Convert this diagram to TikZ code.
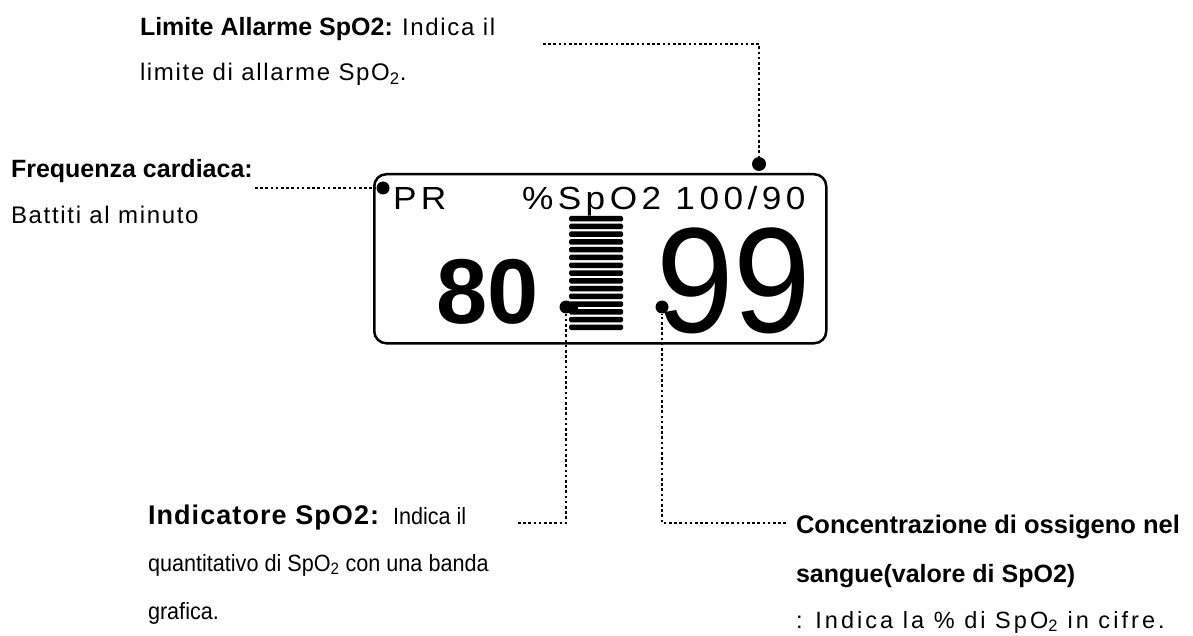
\documentclass[tikz,border=0pt]{standalone}
\usepackage{fontspec}
\setmainfont{Liberation Sans}
\newfontfamily\bodyfont[LetterSpace=7]{Liberation Sans}
\newfontfamily\bbfont[FakeStretch=0.92]{Liberation Sans}
\newfontfamily\brfont[LetterSpace=13]{Liberation Sans}
\newfontfamily\hdwide[LetterSpace=4]{Liberation Sans}
\newfontfamily\dispfont[FakeStretch=1.1,LetterSpace=14]{Liberation Sans}
\newfontfamily\bigfont[FakeStretch=0.93]{Liberation Sans}
\newcommand{\hd}{\fontsize{25}{30}\selectfont\bfseries}
\newcommand{\hdw}{\hdwide\fontsize{27}{32}\selectfont\bfseries}
\newcommand{\bdt}{\bodyfont\fontsize{24}{28}\selectfont}
\newcommand{\bdb}{\bbfont\fontsize{23.5}{27}\selectfont}
\newcommand{\bdr}{\brfont\fontsize{23.5}{27}\selectfont}
\begin{document}
\begin{tikzpicture}[x=1pt,y=-1pt,
  txt/.style={anchor=base west,inner sep=0pt,outer sep=0pt},
  conn/.style={line width=2.6pt,dash pattern=on 2.6pt off 2.6pt},
  pin/.style={circle,fill=black,inner sep=0pt,minimum size=13pt},
  bar/.style={fill=black,rounded corners=1.5pt},
  disptxt/.style={txt,font=\dispfont\fontsize{32}{36}\selectfont}]
\path[use as bounding box] (0,0) rectangle (1193,636);
% display
\node[draw,line width=2.5pt,rounded corners=12pt,minimum width=452pt,minimum height=169pt,inner sep=0pt,anchor=north west] (disp) at (373,173) {};
\node[disptxt] (pr) at (393,210) {PR};
\node[disptxt] (alm) at (522,210) {\%SpO2 100/90};
\node[txt,font=\fontsize{92}{92}\selectfont\bfseries] (pulse) at (436,323) {80};
\node[txt,font=\bigfont\fontsize{150}{150}\selectfont] (spo) at (656,332) {99};
\foreach \i in {0,...,14} \path[bar] (569,{216+7.75*\i}) rectangle (623,{221.5+7.75*\i});
% pins
\node[pin,minimum size=14pt] (tdot) at (759,164) {};
\node[pin] (pdot) at (383,188) {};
\node[pin] (bdot) at (566,307) {};
\node[pin] (cdot) at (662,307) {};
\draw[line width=3pt] (bdot.center) -- (578,307);
% connector ends
\coordinate (limA) at (543,44);
\coordinate (frA) at (255,188);
\coordinate (inA) at (518,523);
\coordinate (coA) at (786,523);
\draw[conn] (limA) -| (tdot);
\draw[conn] (frA) -- (pdot);
\draw[conn] (inA) -| (bdot);
\draw[conn] (coA) -| (cdot);
% labels
\node[txt] (l1) at (140,36) {\hd Limite Allarme SpO2:};
\node[txt] (l1b) at (402,36) {\bdt Indica il};
\node[txt] (l2) at (140,81) {\bdt limite di allarme SpO\textsubscript{2}.};
\node[txt] (f1) at (11,178) {\hd Frequenza cardiaca:};
\node[txt] (f2) at (11,224) {\bdt Battiti al minuto};
\node[txt] (i1) at (148,524) {\hdw Indicatore SpO2:};
\node[txt] (i1b) at (393,524) {\bdb Indica il};
\node[txt] (i2) at (148,571) {\bdb quantitativo di SpO\textsubscript{2} con una banda};
\node[txt] (i3) at (148,619) {\bdb grafica.};
\node[txt] (c1) at (796,533) {\fontsize{25.5}{30}\selectfont\bfseries Concentrazione di ossigeno nel};
\node[txt] (c2) at (796,582) {\hd sangue(valore di SpO2)};
\node[txt] (c3) at (796,628) {\bdr : Indica la \% di SpO\textsubscript{2} in cifre.};
\end{tikzpicture}
\end{document}
